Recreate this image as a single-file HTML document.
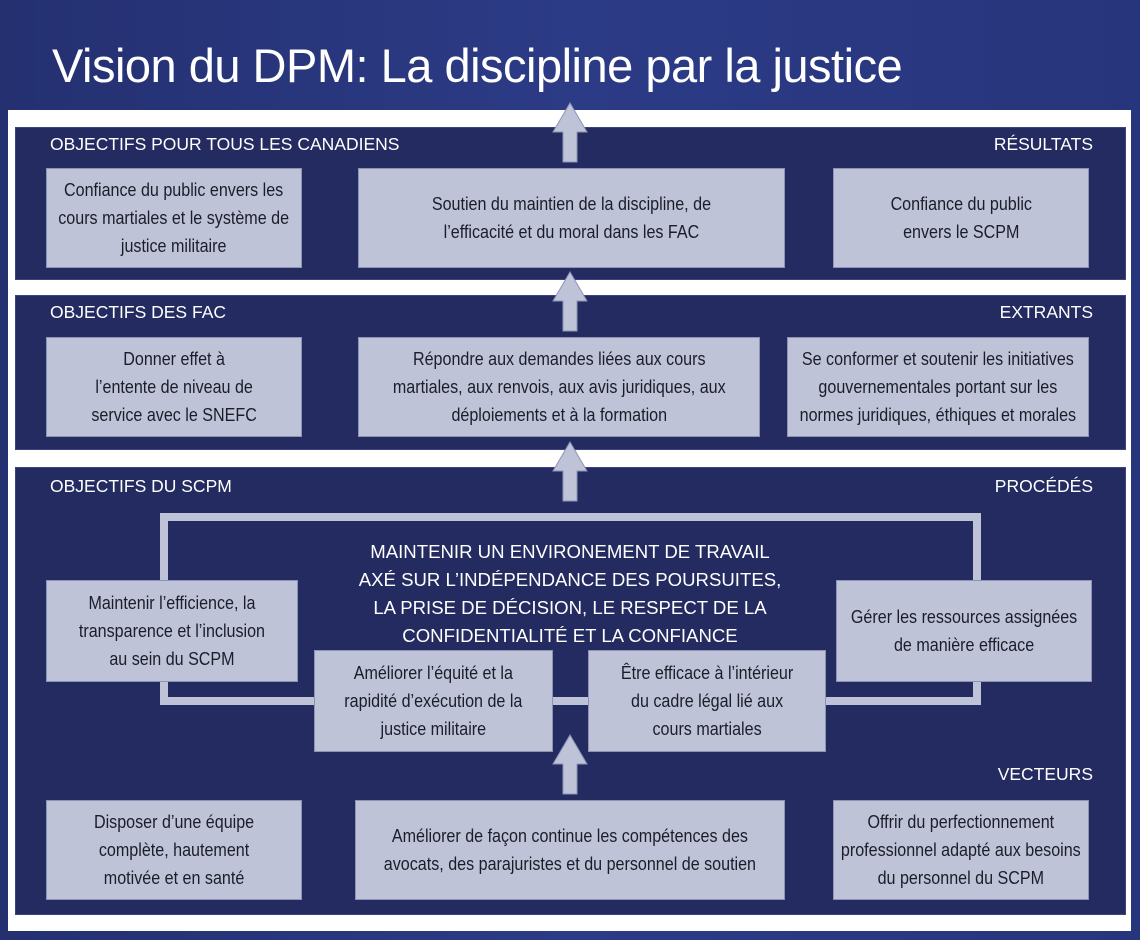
<!DOCTYPE html>
<html><head><meta charset="utf-8"><style>
*{margin:0;padding:0;box-sizing:border-box}
body{width:1140px;height:940px;overflow:hidden;background:linear-gradient(90deg,#243070,#2c3b86 50%,#27357c);position:relative;font-family:"Liberation Sans",sans-serif}
.abs{position:absolute}
.title{left:52px;top:38px;color:#fff;font-size:47px;letter-spacing:-0.5px}
.white{left:8px;top:110px;width:1123px;height:821px;background:#fff}
.sec{position:absolute;left:15px;width:1111px;background:#232b60;border:1px solid #3a4480}
.h{position:absolute;color:#fff;font-size:17.5px;top:134px}
.box{position:absolute;background:#bec3d8;border:1px solid #8d93b5;display:flex;align-items:center;justify-content:center;text-align:center;color:#1d1d2a;font-size:18.5px;line-height:28px}
.box span{display:inline-block;white-space:nowrap;transform:scaleX(.87)}
.frame{position:absolute;left:160px;top:513px;width:821px;height:192px;border:8px solid #bec3d8}
.center{position:absolute;left:320px;top:538px;width:500px;text-align:center;color:#fff;font-size:18.6px;line-height:28px;white-space:nowrap}
</style></head><body>
<div class="abs title">Vision du DPM: La discipline par la justice</div>
<div class="abs white"></div>
<div class="sec" style="top:127px;height:153px"></div>
<div class="sec" style="top:295px;height:155px"></div>
<div class="sec" style="top:467px;height:448px"></div>

<div class="h" style="left:50px;top:134px">OBJECTIFS POUR TOUS LES CANADIENS</div>
<div class="h" style="right:47px;top:134px">RÉSULTATS</div>
<div class="h" style="left:50px;top:302px">OBJECTIFS DES FAC</div>
<div class="h" style="right:47px;top:302px">EXTRANTS</div>
<div class="h" style="left:50px;top:476px">OBJECTIFS DU SCPM</div>
<div class="h" style="right:47px;top:476px">PROCÉDÉS</div>
<div class="h" style="right:47px;top:764px">VECTEURS</div>

<div class="box" style="left:46px;top:168px;width:256px;height:100px"><span>Confiance du public envers les<br>cours martiales et le système de<br>justice militaire</span></div>
<div class="box" style="left:358px;top:168px;width:427px;height:100px"><span>Soutien du maintien de la discipline, de<br>l’efficacité et du moral dans les FAC</span></div>
<div class="box" style="left:833px;top:168px;width:256px;height:100px"><span>Confiance du public<br>envers le SCPM</span></div>

<div class="box" style="left:46px;top:337px;width:256px;height:100px"><span>Donner effet à<br>l’entente de niveau de<br>service avec le SNEFC</span></div>
<div class="box" style="left:358px;top:337px;width:402px;height:100px"><span>Répondre aux demandes liées aux cours<br>martiales, aux renvois, aux avis juridiques, aux<br>déploiements et à la formation</span></div>
<div class="box" style="left:787px;top:337px;width:302px;height:100px"><span>Se conformer et soutenir les initiatives<br>gouvernementales portant sur les<br>normes juridiques, éthiques et morales</span></div>

<div class="frame"></div>
<div class="center">MAINTENIR UN ENVIRONEMENT DE TRAVAIL<br>AXÉ SUR L’INDÉPENDANCE DES POURSUITES,<br>LA PRISE DE DÉCISION, LE RESPECT DE LA<br>CONFIDENTIALITÉ ET LA CONFIANCE</div>
<div class="box" style="left:46px;top:580px;width:252px;height:102px"><span>Maintenir l’efficience, la<br>transparence et l’inclusion<br>au sein du SCPM</span></div>
<div class="box" style="left:836px;top:580px;width:256px;height:102px"><span>Gérer les ressources assignées<br>de manière efficace</span></div>
<div class="abs" style="left:553px;top:697px;width:35px;height:8px;background:#bec3d8"></div>
<div class="box" style="left:314px;top:650px;width:239px;height:102px"><span>Améliorer l’équité et la<br>rapidité d’exécution de la<br>justice militaire</span></div>
<div class="box" style="left:588px;top:650px;width:238px;height:102px"><span>Être efficace à l’intérieur<br>du cadre légal lié aux<br>cours martiales</span></div>

<div class="box" style="left:46px;top:800px;width:256px;height:100px"><span>Disposer d’une équipe<br>complète, hautement<br>motivée et en santé</span></div>
<div class="box" style="left:355px;top:800px;width:430px;height:100px"><span>Améliorer de façon continue les compétences des<br>avocats, des parajuristes et du personnel de soutien</span></div>
<div class="box" style="left:833px;top:800px;width:256px;height:100px"><span>Offrir du perfectionnement<br>professionnel adapté aux besoins<br>du personnel du SCPM</span></div>

<svg class="abs" style="left:0;top:0" width="1140" height="940">
<g fill="#bec3d8" stroke="#8d93b5" stroke-width="1">
<path d="M570 103 L587 132 L577 132 L577 162 L563 162 L563 132 L553 132 Z"/>
<path d="M570 272 L587 301 L577 301 L577 331 L563 331 L563 301 L553 301 Z"/>
<path d="M570 442 L587 471 L577 471 L577 501 L563 501 L563 471 L553 471 Z"/>
<path d="M570 735 L587 764 L577 764 L577 794 L563 794 L563 764 L553 764 Z"/>
</g>
</svg>
</body></html>
